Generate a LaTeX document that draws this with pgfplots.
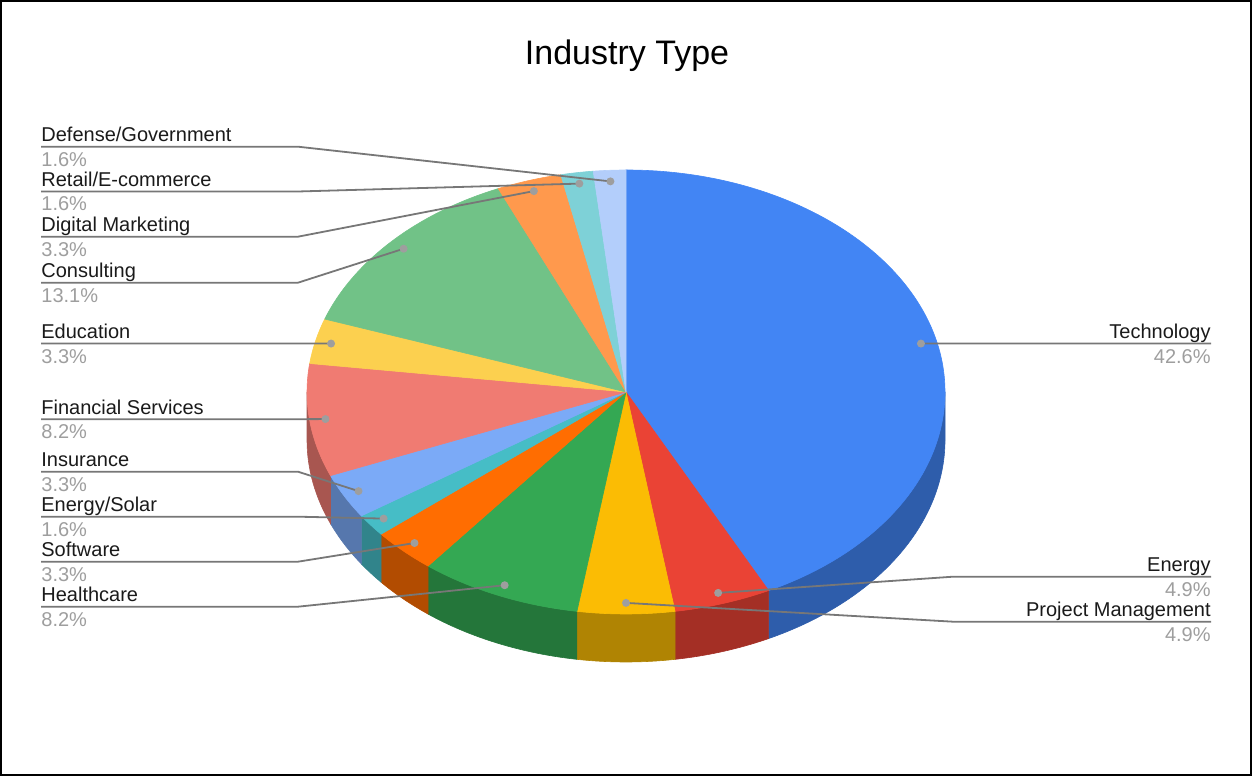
\documentclass[border=0pt]{standalone}
\usepackage{pgfplots}
\usepackage{pgfplotstable}
\pgfplotsset{compat=1.18}
\usepackage{fontspec}
\setmainfont{Liberation Sans}
\definecolor{cTech}{HTML}{4285F4}
\definecolor{cEnergy}{HTML}{EA4335}
\definecolor{cPM}{HTML}{FBBC04}
\definecolor{cHealth}{HTML}{34A853}
\definecolor{cSoft}{HTML}{FF6D01}
\definecolor{cSolar}{HTML}{46BDC6}
\definecolor{cIns}{HTML}{7BAAF7}
\definecolor{cFin}{HTML}{F07B72}
\definecolor{cEdu}{HTML}{FCD04F}
\definecolor{cCons}{HTML}{71C287}
\definecolor{cDig}{HTML}{FF994D}
\definecolor{cRet}{HTML}{7ED1D7}
\definecolor{cDef}{HTML}{B3CEFB}
\definecolor{nameC}{HTML}{1A1A1A}
\definecolor{pctC}{HTML}{9E9E9E}
\definecolor{leadC}{HTML}{777777}
\definecolor{dotC}{HTML}{9E9E9E}
% count = number of responses (total 61); ly = label line y (pixels from top); ex = elbow x
\pgfplotstableread[col sep=comma]{
name,count,pct,col,ly,ex
Technology,26,42.6,cTech,343.6,1000
Energy,3,4.9,cEnergy,576.7,953
Project Management,3,4.9,cPM,621.7,953
Healthcare,5,8.2,cHealth,606.7,298
Software,2,3.3,cSoft,561.7,298
Energy/Solar,1,1.6,cSolar,516.7,298
Insurance,2,3.3,cIns,471.7,298
Financial Services,5,8.2,cFin,419.2,298
Education,2,3.3,cEdu,343.6,298
Consulting,8,13.1,cCons,282.7,298
Digital Marketing,2,3.3,cDig,236.7,298
Retail/E-commerce,1,1.6,cRet,191.5,298
Defense/Government,1,1.6,cDef,146.7,298
}\pietable
\begin{document}
\begin{tikzpicture}
\begin{axis}[x=0.5pt,y=0.5pt,xmin=0,xmax=1252,ymin=0,ymax=776,hide axis,clip=false]
\pgfplotsextra{%
  % ---- sides (front half only)
  \gdef\cum{90}%
  \foreach \i in {0,...,12}{%
    \pgfplotstablegetelem{\i}{count}\of\pietable \let\cnt\pgfplotsretval
    \pgfplotstablegetelem{\i}{col}\of\pietable \let\cc\pgfplotsretval
    \pgfmathsetmacro{\aa}{\cum}%
    \pgfmathsetmacro{\bb}{\cum-360*\cnt/61}%
    \xdef\cum{\bb}%
    \pgfmathsetmacro{\s}{min(\aa,0)}%
    \pgfmathsetmacro{\e}{max(\bb,-180)}%
    \pgfmathtruncatemacro{\vis}{\s>\e}%
    \ifnum\vis=1
      \pgfmathsetmacro{\xs}{626+319*cos(\s)}%
      \pgfmathsetmacro{\ys}{384+222*sin(\s)}%
      \filldraw[fill=\cc!70!black,draw=\cc!70!black,line width=0.3pt] (axis cs:\xs,\ys) arc[start angle=\s,end angle=\e,x radius=159.5pt,y radius=111pt] -- ++(0pt,-24pt) arc[start angle=\e,end angle=\s,x radius=159.5pt,y radius=111pt] -- cycle;
    \fi
  }%
  % ---- top faces
  \gdef\cum{90}%
  \foreach \i in {0,...,12}{%
    \pgfplotstablegetelem{\i}{count}\of\pietable \let\cnt\pgfplotsretval
    \pgfplotstablegetelem{\i}{col}\of\pietable \let\cc\pgfplotsretval
    \pgfmathsetmacro{\aa}{\cum}%
    \pgfmathsetmacro{\bb}{\cum-360*\cnt/61}%
    \xdef\cum{\bb}%
    \pgfmathsetmacro{\xs}{626+319*cos(\aa)}%
    \pgfmathsetmacro{\ys}{384+222*sin(\aa)}%
    \filldraw[fill=\cc,draw=\cc,line width=0.3pt] (axis cs:626,384) -- (axis cs:\xs,\ys) arc[start angle=\aa,end angle=\bb,x radius=159.5pt,y radius=111pt] -- cycle;
  }%
  % ---- leader lines, dots and labels
  \gdef\cum{90}%
  \foreach \i in {0,...,12}{%
    \pgfplotstablegetelem{\i}{count}\of\pietable \let\cnt\pgfplotsretval
    \pgfplotstablegetelem{\i}{name}\of\pietable \let\nm\pgfplotsretval
    \pgfplotstablegetelem{\i}{pct}\of\pietable \let\pc\pgfplotsretval
    \pgfplotstablegetelem{\i}{ly}\of\pietable \let\ly\pgfplotsretval
    \pgfplotstablegetelem{\i}{ex}\of\pietable \let\ex\pgfplotsretval
    \pgfmathsetmacro{\aa}{\cum}%
    \pgfmathsetmacro{\bb}{\cum-360*\cnt/61}%
    \xdef\cum{\bb}%
    \pgfmathsetmacro{\mm}{(\aa+\bb)/2}%
    \pgfmathsetmacro{\dx}{626+0.95*319*cos(\mm)}%
    \pgfmathsetmacro{\dy}{384+0.95*222*sin(\mm)}%
    \pgfmathsetmacro{\Y}{776-\ly}%
    \pgfmathsetmacro{\Yn}{776-\ly+5}%
    \pgfmathsetmacro{\Yp}{776-\ly-19.5}%
    \pgfmathtruncatemacro{\isleft}{\ex<600}%
    \ifnum\isleft=1
      \draw[leadC,line width=0.9pt] (axis cs:41,\Y) -- (axis cs:\ex,\Y) -- (axis cs:\dx,\dy);
      \node[anchor=base west,inner sep=0pt,text=nameC,font=\fontsize{10}{12}\selectfont] at (axis cs:41,\Yn) {\nm};
      \node[anchor=base west,inner sep=0pt,text=pctC,font=\fontsize{10}{12}\selectfont] at (axis cs:41,\Yp) {\pc\%};
    \else
      \draw[leadC,line width=0.9pt] (axis cs:1211,\Y) -- (axis cs:\ex,\Y) -- (axis cs:\dx,\dy);
      \node[anchor=base east,inner sep=0pt,text=nameC,font=\fontsize{10}{12}\selectfont] at (axis cs:1211,\Yn) {\nm};
      \node[anchor=base east,inner sep=0pt,text=pctC,font=\fontsize{10}{12}\selectfont] at (axis cs:1211,\Yp) {\pc\%};
    \fi
    \fill[dotC] (axis cs:\dx,\dy) circle[radius=2pt];
  }%
  % ---- title and frame
  \node[anchor=base,inner sep=0pt,font=\fontsize{17}{20}\selectfont] at (axis cs:627,711) {Industry Type};
  \draw[black,line width=1pt] (axis cs:1,1) rectangle (axis cs:1251,775);
}
\end{axis}
\end{tikzpicture}
\end{document}
